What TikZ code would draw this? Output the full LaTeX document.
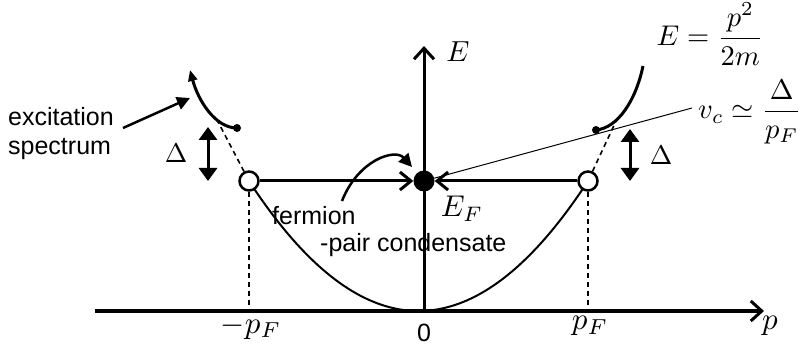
\documentclass[tikz,border=0pt]{standalone}
\usepackage{amsmath}
\usepackage{fontspec}
\newfontfamily\arialf{Liberation Sans}
\usetikzlibrary{arrows.meta}
\newcommand{\mbig}[2][3.1]{\scalebox{#1}{#2}}
\tikzset{
  axisline/.style={line width=3pt,-{Straight Barb[length=11pt,width=20pt,line width=3pt]}},
  pairarrow/.style={line width=3pt,-{Straight Barb[length=11pt,width=18pt,line width=3pt]}},
  gaparrow/.style={line width=3pt,{Triangle[length=13pt,width=18pt]}-{Triangle[length=13pt,width=18pt]}},
  pointer/.style={line width=2.5pt,-{Triangle[length=13pt,width=13pt]}},
  dashline/.style={line width=1.6pt,dash pattern=on 5pt off 4pt},
  spectrum/.style={line width=3pt},
  opencirc/.style={circle,draw,line width=2.5pt,fill=white,minimum size=19pt,inner sep=0pt},
  fulldot/.style={circle,fill=black,minimum size=21pt,inner sep=0pt},
  enddot/.style={circle,fill=black,minimum size=8pt,inner sep=0pt},
  sanslabel/.style={font=\arialf\fontsize{25}{29}\selectfont,inner sep=0pt},
  mathlabel/.style={font=\fontsize{10}{12}\selectfont,inner sep=0pt},
}
\begin{document}
\begin{tikzpicture}[x=1pt,y=-1pt]
\useasboundingbox (0,0) rectangle (803,347);
% axes
\coordinate (pstart) at (95,311);
\coordinate (pend) at (764,311);
\coordinate (O) at (424,311);
\coordinate (Etop) at (424,46);
\draw[axisline] (pstart) -- (pend);
\draw[axisline] (O) -- (Etop);
% parabola
\draw[line width=2pt] plot[domain=-1:1,samples=80] ({418.5+169.5*\x},{311-130*\x*\x});
% dashed verticals
\coordinate (Lb) at (249,311);
\coordinate (Rb) at (588,311);
\node[opencirc] (L) at (249,181) {};
\node[opencirc] (R) at (588,181) {};
\draw[dashline] (L) -- (Lb);
\draw[dashline] (R) -- (Rb);
% dashed to spectra
\coordinate (Ld) at (216,118);
\coordinate (Rd) at (617,119);
\draw[dashline] (L) -- (Ld);
\draw[dashline] (R) -- (Rd);
% fermi point
\node[fulldot] (F) at (424,181) {};
\draw[pairarrow] (L) -- (F);
\draw[pairarrow] (R) -- (F);
% v_c line
\coordinate (vc) at (692,108);
\draw[line width=1pt] (vc) -- (F);
% excitation spectra
\node[enddot] (Ls) at (237,128) {};
\coordinate (Lt) at (190,70);
\draw[spectrum,-{Triangle[length=11pt,width=9pt]}] (Ls.center) .. controls (215,128) and (198,100) .. (Lt);
\node[enddot] (Rs) at (596,130) {};
\coordinate (Rt) at (643,66);
\draw[spectrum] (Rs.center) .. controls (618,128) and (636,100) .. (Rt);
% gap arrows
\coordinate (LgT) at (208,127);
\coordinate (LgB) at (208,181);
\draw[gaparrow] (LgT) -- (LgB);
\coordinate (RgT) at (630,129);
\coordinate (RgB) at (630,181);
\draw[gaparrow] (RgT) -- (RgB);
\node[mathlabel] (DL) at (176,153) {\mbig[2.7]{$\Delta$}};
\node[mathlabel] (DR) at (661,155) {\mbig[2.7]{$\Delta$}};
% labels
\node[sanslabel,anchor=west,align=left] (exc) at (8,134) {excitation\\spectrum};
\coordinate (excp) at (190,98);
\coordinate (excs) at (123,128);
\draw[pointer] (excs) -- (excp);
\node[sanslabel,anchor=west] (ferm) at (272,216) {fermion};
\node[sanslabel,anchor=west] (cond) at (320,245) {-pair condensate};
\coordinate (fs) at (342,201);
\coordinate (fe) at (412,167);
\draw[pointer] (fs) .. controls (358,160) and (395,148) .. (fe);
\node[mathlabel] (EF) at (462,209) {\mbig[3.0]{$E_F$}};
\node[mathlabel] (El) at (458,52) {\mbig[2.9]{$E$}};
\node[mathlabel] (Eq) at (710,34) {\mbig[2.85]{$E=\dfrac{p^2}{2m}$}};
\node[mathlabel] (vcl) at (750,112) {\mbig[2.85]{$v_c\simeq\dfrac{\Delta}{p_F}$}};
\node[mathlabel] (mpF) at (251,327) {\mbig{$-p_F$}};
\node[sanslabel] (zero) at (424,333) {0};
\node[mathlabel] (pF) at (590,326) {\mbig{$p_F$}};
\node[mathlabel] (pl) at (770,326) {\mbig{$p$}};
\end{tikzpicture}
\end{document}
